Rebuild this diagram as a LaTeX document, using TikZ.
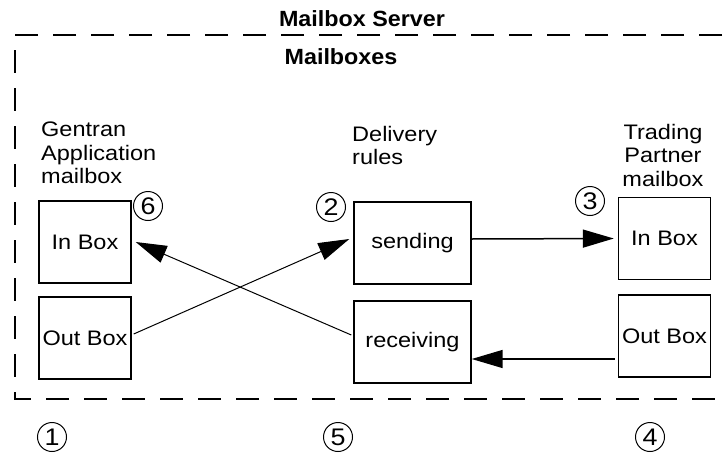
\documentclass[tikz,border=0pt]{standalone}
\usepackage{fontspec}
\setmainfont{Liberation Sans}[FakeStretch=1.12]
\newfontfamily\headfam{Liberation Sans Bold}[FakeStretch=1.06]
\usetikzlibrary{arrows.meta}
\newcommand{\lab}{\fontsize{21}{23.5}\selectfont}
\newcommand{\head}{\fontsize{22}{24}\selectfont\headfam}
\newcommand{\digit}{\fontsize{24}{24}\selectfont}

\begin{document}
\begin{tikzpicture}[x=1pt,y=-1pt,font=\lab,
  mbox/.style={draw,line width=1.4pt,minimum width=92pt,minimum height=82pt,inner sep=0},
  rbox/.style={mbox,minimum width=117pt},
  numc/.style={circle,draw,line width=1pt,minimum size=29pt,inner sep=0,font=\digit},
  flow/.style={line width=1.5pt,-{Triangle[length=31pt,width=18pt]}},
  cross/.style={flow,line width=1pt}]
\useasboundingbox (0,0) rectangle (726,466);
% server frame (right side runs off the page)
\draw[line width=1.8pt,dash pattern=on 23pt off 15pt] (760,35) -- (15,35) -- (15,399) -- (760,399);
\node[anchor=base,inner sep=0,font=\head] (server) at (362,26) {Mailbox Server};
\node[anchor=base,inner sep=0,font=\head] (mboxes) at (341,64) {Mailboxes};
% Gentran side
\node[anchor=north west,align=left,inner sep=0] (glab) at (41,122) {Gentran\\Application\\mailbox};
\node[mbox] (gin) at (85,242) {In Box};
\node[mbox] (gout) at (85,338) {Out Box};
% delivery rules
\node[anchor=north west,align=left,inner sep=0] (dlab) at (352,126) {Delivery\\rules};
\node[rbox] (send) at (412.5,243) {sending};
\node[rbox] (recv) at (412.5,342) {receiving};
% trading partner side
\node[anchor=north,align=center,inner sep=0] (tlab) at (663,124) {Trading\\Partner\\mailbox};
\node[mbox] (tin) at (664.5,238.5) {In Box};
\node[mbox] (tout) at (664.5,336) {Out Box};
% steps
\node[numc] (n1) at (52,437) {1};
\node[numc] (n2) at (331,207) {2};
\node[numc] (n3) at (590,201) {3};
\node[numc] (n4) at (650,437) {4};
\node[numc] (n5) at (338,437) {5};
\node[numc] (n6) at (148,206) {6};
% message flow
\draw[cross] ([xshift=2pt,yshift=4pt]gout.east) -- ([xshift=-4pt,yshift=4pt]send.west);
\draw[cross] ([xshift=-2pt,yshift=7pt]recv.west) -- ([xshift=4pt]gin.east);
\draw[flow] ([yshift=4pt]send.east) -- ([xshift=-4pt]tin.west);
\draw[flow] ([xshift=-3pt,yshift=-23pt]tout.west) -- ([yshift=-17pt]recv.east);
\end{tikzpicture}
\end{document}
